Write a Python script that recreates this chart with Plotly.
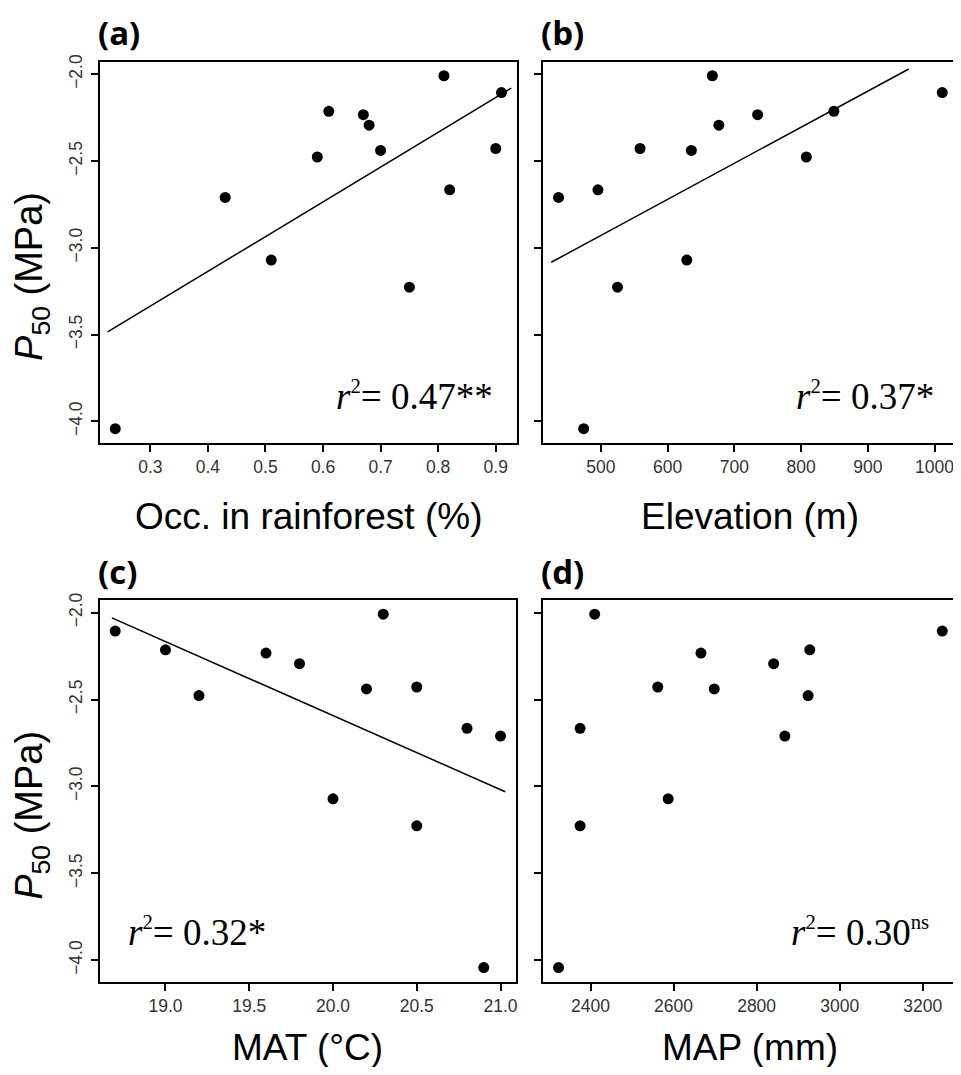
import numpy as np
import plotly.graph_objects as go

# ---------------- data ----------------
p50 = [-2.009, -2.106, -2.214, -2.233, -2.294, -2.428, -2.439, -2.477,
       -2.666, -2.710, -3.071, -3.227, -4.042]

occ_rainforest = [0.81, 0.91, 0.61, 0.67, 0.68, 0.90, 0.70, 0.59,
                  0.82, 0.43, 0.51, 0.75, 0.239]
elevation = [666.9, 1011.5, 849.1, 734.8, 676.7, 558.6, 635.5, 807.8,
             495.5, 436.4, 628.6, 524.8, 474.1]
mat = [20.3, 18.7, 19.0, 19.6, 19.8, 20.5, 20.2, 19.2,
       20.8, 21.0, 20.0, 20.5, 20.9]
map_mm = [2410, 3247, 2928, 2666, 2841, 2562, 2698, 2924,
          2375, 2868, 2587, 2375, 2323]

x_titles = ["Occ. in rainforest (%)", "Elevation (m)", "MAT (°C)", "MAP (mm)"]
panel_labels = ["(a)", "(b)", "(c)", "(d)"]
r2_values = ["0.47", "0.37", "0.32", "0.30"]
r2_signif = ["**", "*", "*", "ns"]
x_tickvals = [[0.3, 0.4, 0.5, 0.6, 0.7, 0.8, 0.9],
              [500, 600, 700, 800, 900, 1000],
              [19.0, 19.5, 20.0, 20.5, 21.0],
              [2400, 2600, 2800, 3000, 3200]]
x_tickfmt = ["{:.1f}", "{:.0f}", "{:.1f}", "{:.0f}"]
y_tickvals = [-4.0, -3.5, -3.0, -2.5, -2.0]
# x-extent of the drawn regression lines (None = no line)
fit_ranges = [[0.2257, 0.927], [425.5, 961.3], [18.68, 21.028], None]

xs_all = [occ_rainforest, elevation, mat, map_mm]

# ---------------- layout helpers ----------------
# the page body has an 8px margin; the figure is placed at (8, 8)
OFF = 8
W, H = 961 - OFF, 1075 - 2 * OFF


def px_x(v):
    return (v - OFF) / W


def px_y(v):
    return 1 - (v - OFF) / H


# panel boxes in screen pixels: (left, right, top, bottom)
boxes = [(100, 518, 54, 438), (544.3, 959.6, 54, 438),
         (100, 517, 596.5, 981), (544.3, 959.6, 596.5, 981)]
title_y = [512, 512, 1047, 1047]


def minus(s):
    return s.replace("-", "\u2212")


def padded(vals, frac=0.04):
    lo, hi = min(vals), max(vals)
    d = (hi - lo) * frac
    return [lo - d, hi + d]


def small_sup(s):
    return f'<sup><span style="font-size:80%">{s}</span></sup>'


fig = go.Figure()
y_range = padded(p50)
annotations = []

for i in range(4):
    n = i + 1
    xa = "x" if n == 1 else f"x{n}"
    ya = "y" if n == 1 else f"y{n}"
    xs = xs_all[i]
    fig.add_trace(go.Scatter(
        x=xs, y=p50, mode="markers", xaxis=xa, yaxis=ya,
        marker=dict(color="black", size=11, line=dict(width=0)),
        showlegend=False, hoverinfo="skip"))
    if fit_ranges[i] is not None:
        slope, intercept = np.polyfit(np.array(xs), np.array(p50), 1)
        fx = np.array(fit_ranges[i])
        fig.add_trace(go.Scatter(
            x=fx, y=slope * fx + intercept, mode="lines", xaxis=xa, yaxis=ya,
            line=dict(color="black", width=1.5), showlegend=False,
            hoverinfo="skip"))

    l, r, t, b = boxes[i]
    axis_common = dict(showline=True, mirror=True, linecolor="black",
                       linewidth=2.2, ticks="outside", ticklen=7, tickwidth=1.5,
                       tickcolor="black", showgrid=False, zeroline=False,
                       tickfont=dict(family="Liberation Sans", size=17.5,
                                     color="#333333"))
    xkey = "xaxis" if n == 1 else f"xaxis{n}"
    ykey = "yaxis" if n == 1 else f"yaxis{n}"
    fig.update_layout(**{
        xkey: dict(domain=[px_x(l), px_x(r)], range=padded(xs), anchor=ya,
                   tickvals=x_tickvals[i],
                   ticktext=[x_tickfmt[i].format(v) for v in x_tickvals[i]],
                   ticklabelstandoff=0, **axis_common),
        ykey: dict(domain=[px_y(b), px_y(t)], range=y_range, anchor=xa,
                   tickvals=y_tickvals,
                   ticktext=[minus(f"{v:.1f}") for v in y_tickvals],
                   tickangle=-90, showticklabels=(i % 2 == 0),
                   ticklabelstandoff=2, **axis_common),
    })

    # panel label
    annotations.append(dict(
        text=f"<b>{panel_labels[i]}</b>", x=px_x(l - 4), y=px_y(t - 29),
        xref="paper", yref="paper", xanchor="left", yanchor="middle",
        showarrow=False, font=dict(family="Open Sans", size=33, color="black")))
    # x-axis title
    annotations.append(dict(
        text=x_titles[i], x=px_x((l + r) / 2), y=px_y(title_y[i]),
        xref="paper", yref="paper", xanchor="center", yanchor="middle",
        showarrow=False,
        font=dict(family="Liberation Sans", size=37, color="black")))

# y-axis titles
for yc in (270, 813):
    annotations.append(dict(
        text="<i>P</i><sub>50</sub> (MPa)", x=px_x(32), y=px_y(yc),
        xref="paper", yref="paper", xanchor="center", yanchor="middle",
        textangle=-90, showarrow=False,
        font=dict(family="Liberation Sans", size=38, color="black")))

# r^2 labels
r2_pos = [(496, 391, "right"), (938, 391, "right"),
          (126, 931, "left"), (933, 931, "right")]
for i, (xp, yp, anc) in enumerate(r2_pos):
    sig = small_sup(r2_signif[i]) if r2_signif[i] == "ns" else r2_signif[i]
    annotations.append(dict(
        text=f"<i>r</i>{small_sup('2')}= {r2_values[i]}{sig}",
        x=px_x(xp), y=px_y(yp),
        xref="paper", yref="paper", xanchor=anc, yanchor="middle",
        showarrow=False,
        font=dict(family="Liberation Serif", size=37, color="black")))

fig.update_layout(width=W, height=H, autosize=False,
                  margin=dict(l=0, r=0, t=0, b=0),
                  paper_bgcolor="white", plot_bgcolor="white",
                  annotations=annotations)

fig.write_html("out.html")
